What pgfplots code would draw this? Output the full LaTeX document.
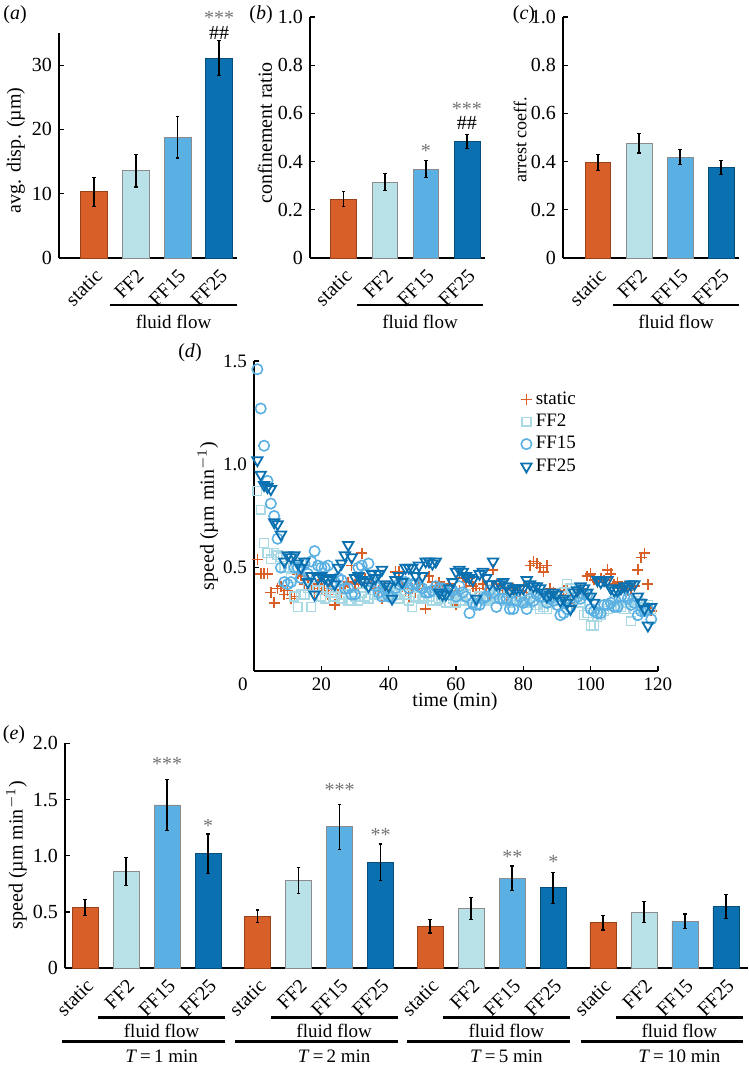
\documentclass[border=0pt]{standalone}
\usepackage{fontspec}
\setmainfont{Liberation Serif}
\usepackage{pgfplots}
\pgfplotsset{compat=1.18}
\usepackage{pgfplotstable}

\definecolor{cst}{HTML}{D95F28}
\definecolor{cf2}{HTML}{B9E1E8}
\definecolor{cf15}{HTML}{5AB0E2}
\definecolor{cf25}{HTML}{0B70B0}
\definecolor{mf2}{HTML}{A9D9E4}

\newcommand{\fs}[1]{\fontsize{#1}{#1}\selectfont}

\tikzset{stars/.style={text=black!55, font=\fs{10}, yshift=-1.5pt}}

\pgfplotsset{
  panel/.style={
    scale only axis, anchor=south west,
    axis lines=left, axis line style={line width=0.9pt, -},
    tick align=inside, major tick length=2.5pt,
    tick style={black, line width=0.6pt},
    ticklabel style={font=\fs{10}},
    label style={font=\fs{10}},
    /pgf/number format/assume math mode=true,
    clip=false,
  },
  barpanel/.style={panel,
    ybar, bar shift=0pt, bar width=0.64,
    xtick={1,2,3,4}, xticklabels={static,FF2,FF15,FF25},
    xtick style={draw=none},
    xticklabel style={rotate=45, anchor=north east, inner sep=1.5pt},
    ymin=0,
  },
  errbar/.style={
    /pgfplots/error bars/y dir=both,
    /pgfplots/error bars/y explicit,
    /pgfplots/error bars/error bar style={black, line width=0.8pt},
    /pgfplots/error bars/error mark options={rotate=90, mark size=0.9pt, black, line width=0.6pt},
  },
  bst/.style={fill=cst, draw=cst!70!black, line width=0.3pt, errbar},
  bf2/.style={fill=cf2, draw=black!45, line width=0.3pt, errbar},
  bf15/.style={fill=cf15, draw=black!45, line width=0.3pt, errbar},
  bf25/.style={fill=cf25, draw=cf25!70!black, line width=0.3pt, errbar},
}

% speed over time, one row per minute
\pgfplotstableread{
t s f2 f15 f25
1 0.54 0.87 1.46 1.02
2 0.47 0.78 1.27 0.95
3 0.47 0.62 1.09 0.90
4 0.47 0.57 0.92 0.89
5 0.38 0.54 0.81 0.88
6 0.33 0.57 0.75 0.72
7 0.40 0.56 0.64 0.71
8 0.41 0.55 0.50 0.66
9 0.37 0.50 0.43 0.53
10 0.39 0.50 0.42 0.56
11 0.35 0.45 0.43 0.55
12 0.36 0.36 0.50 0.56
13 0.47 0.31 0.50 0.52
14 0.46 0.37 0.45 0.50
15 0.42 0.37 0.52 0.53
16 0.44 0.40 0.47 0.43
17 0.40 0.31 0.53 0.46
18 0.38 0.41 0.58 0.37
19 0.42 0.39 0.51 0.45
20 0.40 0.36 0.50 0.46
21 0.39 0.35 0.50 0.45
22 0.37 0.40 0.51 0.44
23 0.41 0.38 0.42 0.45
24 0.32 0.36 0.43 0.42
25 0.37 0.39 0.45 0.50
26 0.38 0.35 0.44 0.52
27 0.41 0.37 0.40 0.56
28 0.43 0.34 0.40 0.61
29 0.51 0.34 0.37 0.55
30 0.42 0.36 0.37 0.45
31 0.40 0.34 0.50 0.46
32 0.57 0.38 0.51 0.44
33 0.45 0.36 0.47 0.43
34 0.45 0.35 0.52 0.41
35 0.43 0.39 0.43 0.47
36 0.40 0.37 0.41 0.45
37 0.39 0.37 0.38 0.47
38 0.35 0.38 0.36 0.49
39 0.41 0.40 0.39 0.42
40 0.38 0.36 0.36 0.41
41 0.40 0.38 0.36 0.35
42 0.48 0.37 0.40 0.44
43 0.48 0.35 0.42 0.46
44 0.41 0.39 0.43 0.43
45 0.39 0.37 0.43 0.50
46 0.36 0.34 0.40 0.50
47 0.40 0.31 0.42 0.50
48 0.38 0.36 0.42 0.46
49 0.42 0.36 0.41 0.51
50 0.40 0.35 0.40 0.46
51 0.30 0.38 0.38 0.53
52 0.46 0.36 0.38 0.53
53 0.43 0.34 0.39 0.52
54 0.41 0.34 0.41 0.53
55 0.43 0.35 0.40 0.38
56 0.41 0.37 0.40 0.37
57 0.40 0.33 0.38 0.37
58 0.42 0.33 0.37 0.40
59 0.38 0.35 0.39 0.43
60 0.32 0.33 0.36 0.48
61 0.39 0.36 0.41 0.49
62 0.45 0.34 0.38 0.48
63 0.43 0.37 0.36 0.46
64 0.45 0.35 0.28 0.45
65 0.41 0.33 0.33 0.44
66 0.40 0.32 0.32 0.35
67 0.38 0.36 0.32 0.47
68 0.42 0.35 0.35 0.48
69 0.40 0.34 0.36 0.45
70 0.37 0.36 0.39 0.42
71 0.49 0.35 0.38 0.53
72 0.42 0.37 0.31 0.42
73 0.39 0.38 0.35 0.42
74 0.40 0.35 0.35 0.43
75 0.36 0.34 0.35 0.41
76 0.38 0.33 0.30 0.39
77 0.40 0.36 0.30 0.40
78 0.37 0.34 0.34 0.40
79 0.39 0.35 0.36 0.40
80 0.41 0.33 0.33 0.40
81 0.38 0.34 0.30 0.44
82 0.51 0.33 0.35 0.42
83 0.53 0.36 0.34 0.41
84 0.52 0.32 0.37 0.41
85 0.50 0.30 0.36 0.40
86 0.48 0.31 0.36 0.38
87 0.51 0.30 0.33 0.36
88 0.40 0.33 0.35 0.37
89 0.38 0.35 0.34 0.38
90 0.36 0.34 0.32 0.37
91 0.37 0.36 0.27 0.34
92 0.39 0.38 0.28 0.35
93 0.40 0.42 0.30 0.33
94 0.36 0.40 0.31 0.30
95 0.33 0.38 0.34 0.38
96 0.38 0.36 0.36 0.39
97 0.40 0.33 0.35 0.41
98 0.37 0.27 0.37 0.40
99 0.46 0.28 0.37 0.38
100 0.47 0.22 0.30 0.36
101 0.44 0.22 0.29 0.33
102 0.43 0.26 0.28 0.44
103 0.45 0.27 0.28 0.43
104 0.44 0.29 0.32 0.44
105 0.49 0.30 0.32 0.44
106 0.47 0.32 0.33 0.40
107 0.42 0.34 0.31 0.39
108 0.43 0.32 0.31 0.39
109 0.40 0.31 0.36 0.40
110 0.41 0.30 0.36 0.41
111 0.39 0.33 0.35 0.41
112 0.40 0.24 0.32 0.42
113 0.41 0.30 0.33 0.42
114 0.49 0.34 0.27 0.36
115 0.55 0.33 0.29 0.33
116 0.57 0.31 0.29 0.30
117 0.42 0.32 0.30 0.22
118 0.29 0.30 0.25 0.31
}\speeddata

\begin{document}
\begin{tikzpicture}
\useasboundingbox (0,0) rectangle (374.5pt,533.5pt);

% (a)
\begin{axis}[barpanel, at={(29.5pt,404.5pt)}, width=89pt, height=112.5pt,
  xmin=0.16, xmax=4.43, ymax=35, ytick={0,10,20,30}, bar width=0.65,
  ylabel={avg. disp. (µm)},
  ylabel style={at={(axis description cs:-0.242,0.478)}, anchor=center}]
\addplot[bst] coordinates {(1,10.3) +- (0,2.25)};
\addplot[bf2] coordinates {(2,13.6) +- (0,2.55)};
\addplot[bf15] coordinates {(3,18.8) +- (0,3.25)};
\addplot[bf25] coordinates {(4,31.1) +- (0,2.75)};
\node[stars] at (axis cs:4,37.8) {***};
\node[font=\fs{10}] at (axis cs:4,35.0) {\#\#};
\end{axis}

% (b)
\begin{axis}[barpanel, at={(155pt,404.5pt)}, width=87.5pt, height=120.5pt,
  xmin=0.18, xmax=4.44, ymax=1, ytick={0,0.2,0.4,0.6,0.8,1},
  yticklabels={0,0.2,0.4,0.6,0.8,1.0}, bar width=0.63,
  ylabel={confinement ratio},
  ylabel style={at={(axis description cs:-0.257,0.519)}, anchor=center}]
\addplot[bst] coordinates {(1,0.245) +- (0,0.031)};
\addplot[bf2] coordinates {(2,0.314) +- (0,0.035)};
\addplot[bf15] coordinates {(3,0.368) +- (0,0.035)};
\addplot[bf25] coordinates {(4,0.484) +- (0,0.030)};
\node[stars] at (axis cs:3,0.456) {*};
\node[stars] at (axis cs:4,0.631) {***};
\node[font=\fs{10}] at (axis cs:4,0.560) {\#\#};
\end{axis}

% (c)
\begin{axis}[barpanel, at={(281.5pt,404.5pt)}, width=88pt, height=120.5pt,
  xmin=0.15, xmax=4.44, ymax=1, ytick={0,0.2,0.4,0.6,0.8,1},
  yticklabels={0,0.2,0.4,0.6,0.8,1.0}, bar width=0.63,
  ylabel={arrest coeff.},
  ylabel style={at={(axis description cs:-0.244,0.49)}, anchor=center, font=\fs{9}}]
\addplot[bst] coordinates {(1,0.397) +- (0,0.034)};
\addplot[bf2] coordinates {(2,0.476) +- (0,0.040)};
\addplot[bf15] coordinates {(3,0.418) +- (0,0.031)};
\addplot[bf25] coordinates {(4,0.375) +- (0,0.030)};
\end{axis}

% (d)
\begin{axis}[panel, at={(127pt,198pt)}, width=202pt, height=155pt,
  xmin=0, xmax=120, ymin=0, ymax=1.5,
  xtick={20,40,...,120}, ytick={0.5,1,1.5}, yticklabels={0.5,1.0,1.5},
  extra x ticks={0}, extra x tick style={xticklabel style={xshift=-5.5pt}},
  ticklabel style={font=\fs{9.5}},
  xlabel={time (min)}, ylabel={speed (µm min$^{-1}$)},
  xlabel style={at={(axis description cs:0.4975,-0.1)}, anchor=center},
  ylabel style={at={(axis description cs:-0.114,0.5)}, anchor=center},
  legend style={draw=none, fill=none, at={(axis description cs:0.655,0.922)},
    anchor=north west, font=\fs{9.5}, row sep=-0.6pt, inner sep=1pt},
  legend cell align=left]
\addplot[only marks, mark=+, cst, mark size=2.7pt, line width=0.8pt] table[x=t, y=s] {\speeddata};
\addplot[only marks, mark=square, mf2, mark size=2.2pt, line width=0.7pt] table[x=t, y=f2] {\speeddata};
\addplot[only marks, mark=o, cf15, mark size=2.6pt, line width=0.8pt] table[x=t, y=f15] {\speeddata};
\addplot[only marks, mark=triangle, mark options={rotate=180}, cf25, mark size=3pt, line width=0.9pt] table[x=t, y=f25] {\speeddata};
\legend{static, FF2, FF15, FF25}
\end{axis}

% (e)
\begin{axis}[barpanel, at={(32.5pt,49.35pt)}, width=341.5pt, height=112.5pt,
  xmin=-0.49, xmax=16.17, ymax=2, ytick={0,0.5,1,1.5,2},
  yticklabels={0,0.5,1.0,1.5,2.0}, bar width=0.634,
  xtick={0,1,2,3,4.21,5.21,6.21,7.21,8.42,9.42,10.42,11.42,12.63,13.63,14.63,15.63},
  xticklabels={static,FF2,FF15,FF25,static,FF2,FF15,FF25,static,FF2,FF15,FF25,static,FF2,FF15,FF25},
  ylabel={speed (µm min$^{-1}$)},
  ylabel style={at={(axis description cs:-0.0707,0.503)}, anchor=center}]
\addplot[bst] coordinates {(0,0.542) +- (0,0.071) (4.21,0.462) +- (0,0.056) (8.42,0.373) +- (0,0.060) (12.63,0.405) +- (0,0.065)};
\addplot[bf2] coordinates {(1,0.859) +- (0,0.125) (5.21,0.782) +- (0,0.115) (9.42,0.533) +- (0,0.097) (13.63,0.500) +- (0,0.092)};
\addplot[bf15] coordinates {(2,1.452) +- (0,0.225) (6.21,1.259) +- (0,0.200) (10.42,0.800) +- (0,0.110) (14.63,0.418) +- (0,0.065)};
\addplot[bf25] coordinates {(3,1.019) +- (0,0.175) (7.21,0.942) +- (0,0.162) (11.42,0.716) +- (0,0.137) (15.63,0.548) +- (0,0.105)};
\node[stars] at (axis cs:2,1.843) {***};
\node[stars] at (axis cs:3,1.294) {*};
\node[stars] at (axis cs:6.21,1.609) {***};
\node[stars] at (axis cs:7.21,1.209) {**};
\node[stars] at (axis cs:10.42,1.016) {**};
\node[stars] at (axis cs:11.42,0.969) {*};
\end{axis}

% group bars, panel letters (pixel coordinates)
\begin{scope}[x=0.5pt, y=-0.5pt, yshift=533.5pt, font=\fs{9.5}]
\draw[line width=1.4pt] (110,305) -- (237,305);
\draw[line width=1.4pt] (356.7,305) -- (483.3,305);
\draw[line width=1.4pt] (612.7,305) -- (739.3,305);
\node at (173.5,322) {fluid flow};
\node at (420,322) {fluid flow};
\node at (676,322) {fluid flow};
\foreach \a/\b/\c/\d in {98.3/225/62.3/1, 270.7/397.7/235/2, 442.7/570/406.7/5, 616/742.7/580.7/10}{
  \draw[line width=1.4pt] (\a,1017.3) -- (\b,1017.3);
  \draw[line width=1.4pt] (\c,1041.7) -- (\b,1041.7);
  \node at ({(\a+\b)/2},1031) {fluid flow};
  \node at ({(\a+\b)/2},1056.7) {\textit{T}\,=\,\d\ min};
}
\node[font=\fs{10}] at (15,15) {(\textit{a})};
\node[font=\fs{10}] at (261,15) {(\textit{b})};
\node[font=\fs{10}] at (524,15) {(\textit{c})};
\node[font=\fs{10}] at (190,353) {(\textit{d})};
\node[font=\fs{10}] at (14,735) {(\textit{e})};
\end{scope}
\end{tikzpicture}
\end{document}
